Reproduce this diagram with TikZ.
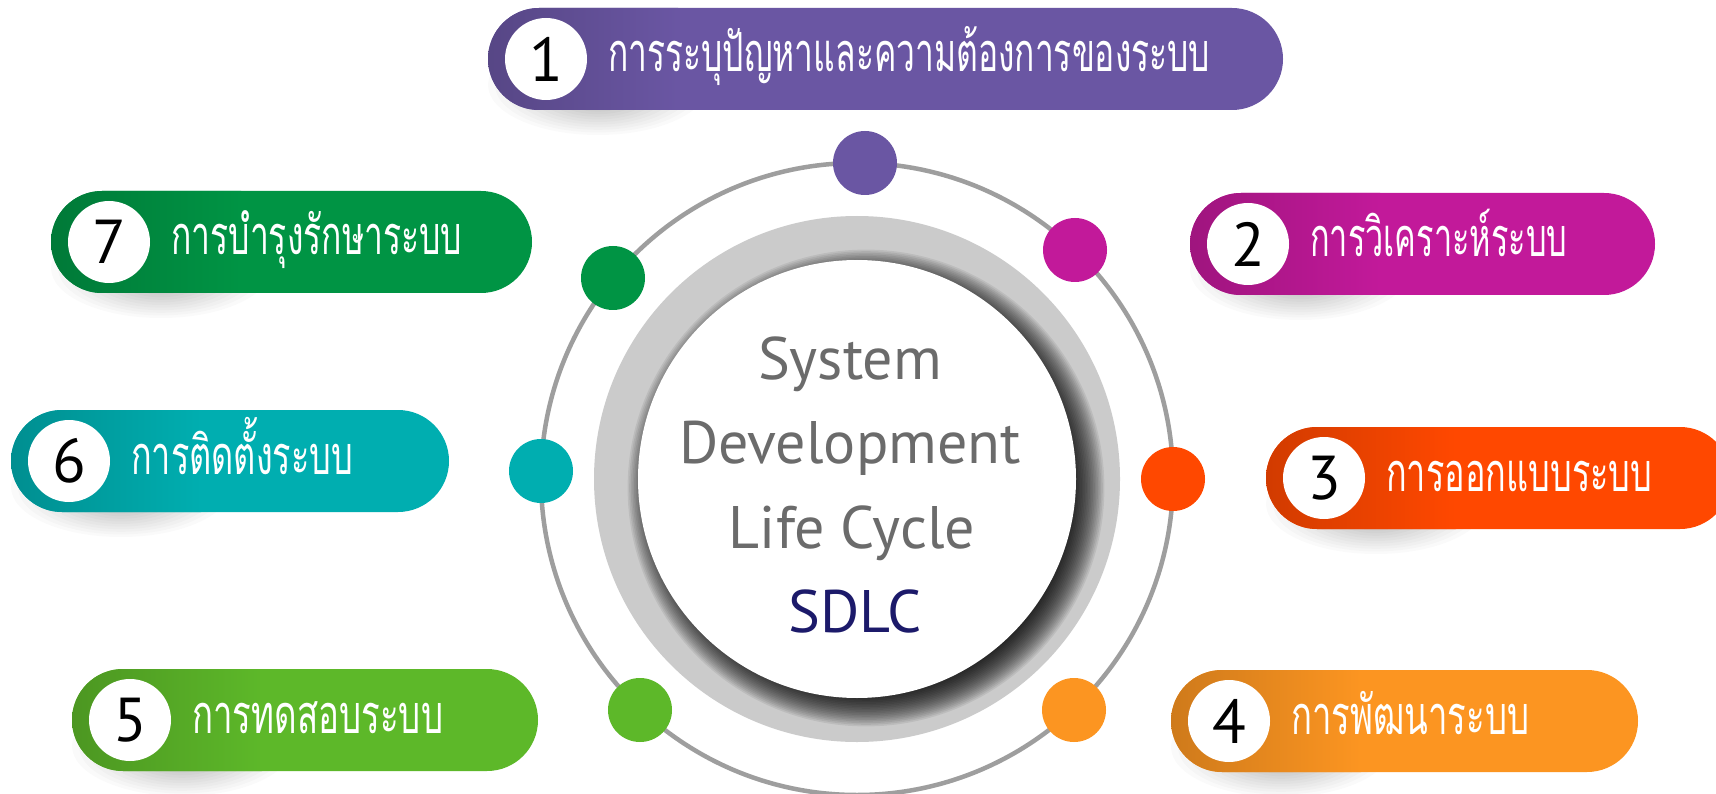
\documentclass[tikz,border=0pt]{standalone}
\usepackage{fontspec}
\usepackage{graphicx}
\setmainfont{PT Sans}
\newfontfamily\thaifont[Script=Thai]{Loma}
\newfontfamily\numfont{PT Sans}
\definecolor{cpurple}{HTML}{6A56A3}
\definecolor{cmagenta}{HTML}{C2199A}
\definecolor{cred}{HTML}{FF4800}
\definecolor{corange}{HTML}{FC9521}
\definecolor{clime}{HTML}{5DB829}
\definecolor{cteal}{HTML}{00AEB0}
\definecolor{cgreen}{HTML}{009444}
\definecolor{ringgray}{HTML}{9E9E9E}
\definecolor{thickgray}{HTML}{CBCBCB}
\definecolor{textgray}{HTML}{6B6B6B}
\definecolor{navy}{HTML}{1C1A6A}
\tikzset{
  numcircle/.style={circle, fill=white, minimum size=82pt, inner sep=0pt},
  numtext/.style={font=\numfont\fontsize{62}{62}\selectfont, text=black, inner sep=0pt},
  pilltext/.style={anchor=base west, text=white, inner sep=0pt},
  ringdot/.style={circle, minimum size=64pt, inner sep=0pt},
  centertext/.style={anchor=base, inner sep=0pt, font=\fontsize{60}{60}\selectfont},
}
% #1 name, #2 left x, #3 right x, #4 centre y, #5 colour, #6 number, #7 text, #8 text width
\newcommand\sdlcpill[8]{%
  \foreach \k in {1,...,10}{%
    \fill[black, opacity=0.018] (#2+110, #4+26) ellipse [x radius={40pt+\k*7pt}, y radius={24pt+\k*2.6pt}];
  }
  \fill[#5, rounded corners=51pt] (#2, #4-51) rectangle (#3, #4+51);
  \begin{scope}
    \clip[rounded corners=51pt] (#2, #4-51) rectangle (#3, #4+51);
    \shade[left color=#5!82!black, right color=#5] (#2, #4-51) rectangle (#2+190, #4+51);
  \end{scope}
  \node[numcircle] (#1c) at (#2+58, #4) {};
  \node[numtext] (#1n) at (#1c.center) {#6};
  \node[pilltext] (#1t) at (#2+120, #4+13) {\resizebox{#8pt}{\height}{\thaifont\fontsize{54}{54}\selectfont #7}};
}
\begin{document}
\begin{tikzpicture}[x=1pt, y=-1pt]
\useasboundingbox (0,0) rectangle (1716,794);
\clip (0,0) rectangle (1716,794);
\fill[white] (0,0) rectangle (1716,794);

% outer thin ring
\node[circle, draw=ringgray, line width=4.5pt, minimum size=632pt, inner sep=0pt] (ring) at (857,479) {};
% thick grey ring
\node[circle, fill=thickgray, minimum size=526pt, inner sep=0pt] (thick) at (857,479) {};
% shadow of the inner disk
\foreach \k in {0,...,19}{%
  \fill[black, opacity=0.07] (866,488) circle [radius={208pt+\k*1.6pt}];
}
\node[circle, fill=white, minimum size=438pt, inner sep=0pt] (disk) at (857,479) {};

% centre texts
\node[centertext, text=textgray] (l1) at (850,379) {System};
\node[centertext, text=textgray] (l2) at (850,463) {Development};
\node[centertext, text=textgray] (l3) at (852,548) {Life Cycle};
\node[centertext, text=navy] (l4) at (855,632) {SDLC};

% dots on the ring
\node[ringdot, fill=cpurple] (d1) at (865,163) {};
\node[ringdot, fill=cmagenta] (d2) at (1075,250) {};
\node[ringdot, fill=cred] (d3) at (1173,479) {};
\node[ringdot, fill=corange] (d4) at (1074,710) {};
\node[ringdot, fill=clime] (d5) at (640,710) {};
\node[ringdot, fill=cteal] (d6) at (541,471) {};
\node[ringdot, fill=cgreen] (d7) at (613,278) {};

% pills
\sdlcpill{p1}{488}{1283}{59}{cpurple}{1}{การระบุปัญหาและความต้องการของระบบ}{602}
\sdlcpill{p2}{1190}{1655}{244}{cmagenta}{2}{การวิเคราะห์ระบบ}{257}
\sdlcpill{p3}{1266}{1731}{478}{cred}{3}{การออกแบบระบบ}{266}
\sdlcpill{p4}{1171}{1638}{721}{corange}{4}{การพัฒนาระบบ}{238}
\sdlcpill{p5}{72}{538}{720}{clime}{5}{การทดสอบระบบ}{251}
\sdlcpill{p6}{11}{449}{461}{cteal}{6}{การติดตั้งระบบ}{222}
\sdlcpill{p7}{51}{532}{242}{cgreen}{7}{การบำรุงรักษาระบบ}{291}
\end{tikzpicture}
\end{document}
